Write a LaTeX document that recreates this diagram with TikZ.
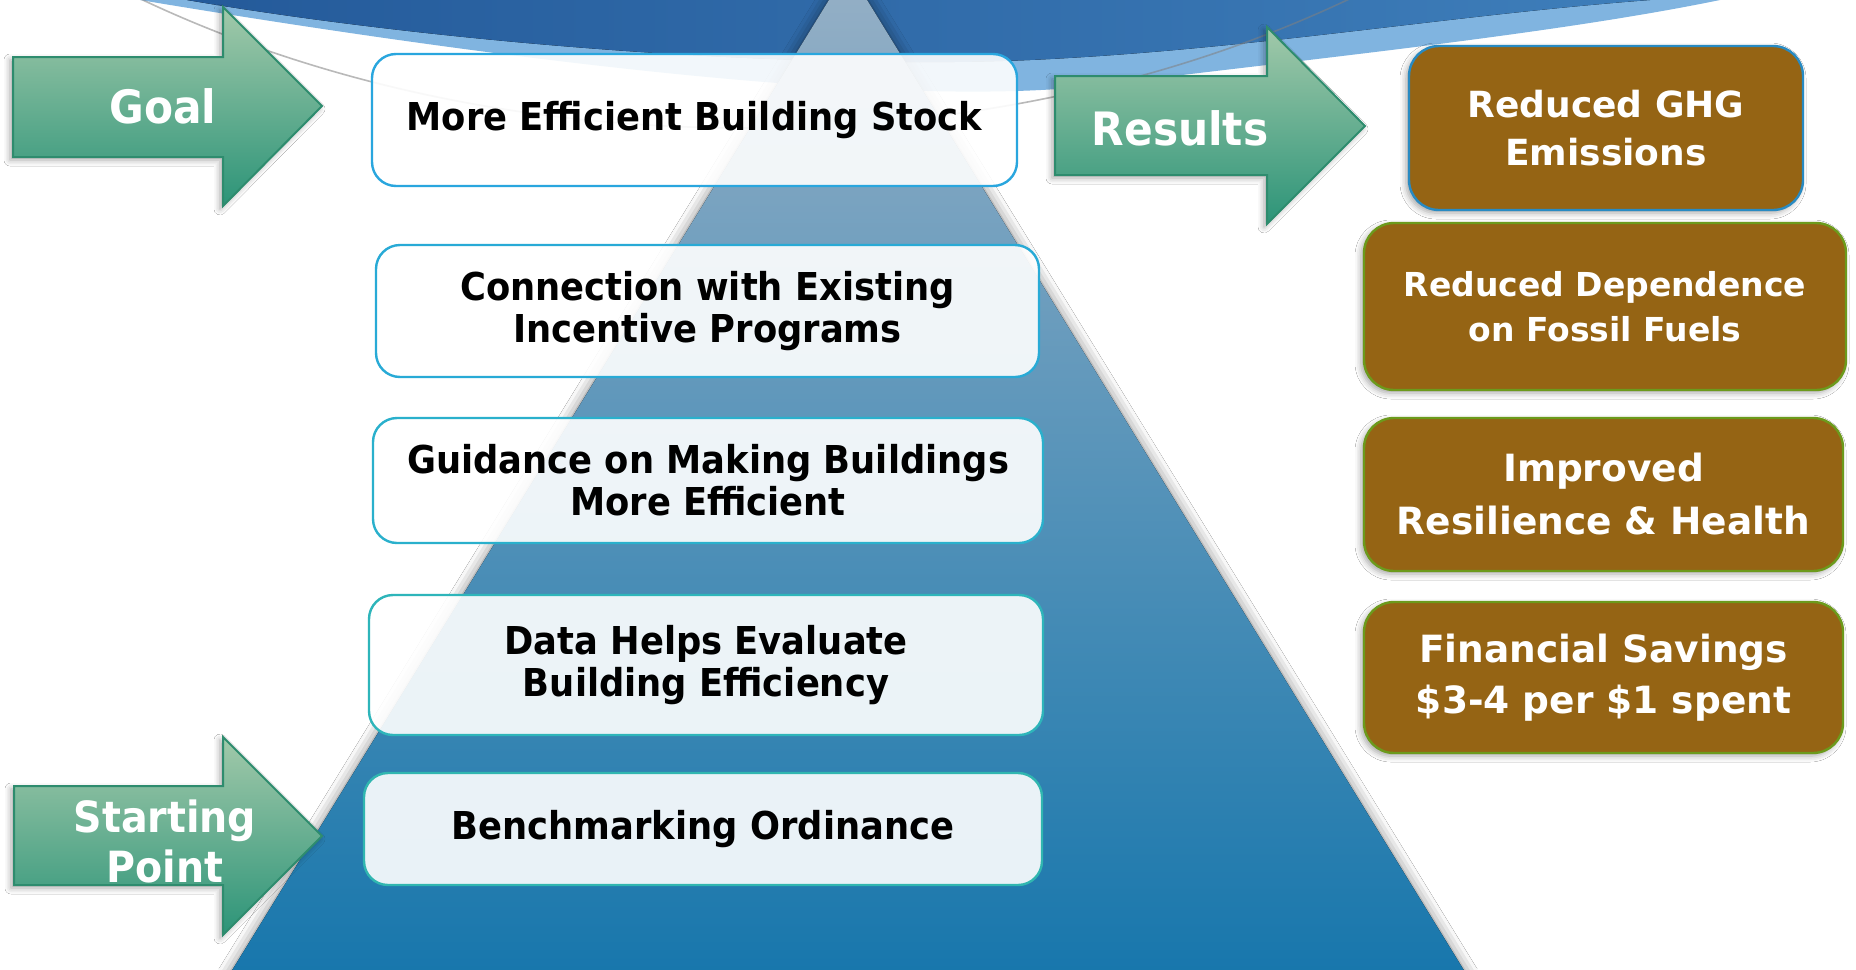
\documentclass[tikz,border=0pt]{standalone}
\usepackage{fontspec}
\setmainfont{DejaVu Sans}
\newfontfamily\narrowfont[FakeStretch=0.92]{DejaVu Sans}
\usetikzlibrary{shadows.blur}

\definecolor{arcdark}{RGB}{36,90,154}
\definecolor{arclight}{RGB}{62,126,186}
\definecolor{arcband}{RGB}{128,180,224}
\definecolor{pyrtop}{RGB}{150,176,198}
\definecolor{pyrmid}{RGB}{98,153,197}
\definecolor{pyrbot}{RGB}{22,118,172}
\definecolor{arrowtop}{RGB}{162,201,170}
\definecolor{arrowbot}{RGB}{44,148,120}
\definecolor{arrowline}{RGB}{46,140,110}
\definecolor{brownfill}{RGB}{149,100,20}
\definecolor{greenline}{RGB}{108,154,28}
\definecolor{blueline}{RGB}{40,138,194}
\definecolor{lineA}{RGB}{41,166,222}
\definecolor{lineB}{RGB}{40,170,214}
\definecolor{lineC}{RGB}{42,176,204}
\definecolor{lineD}{RGB}{46,181,186}
\definecolor{lineE}{RGB}{48,182,176}

\begin{document}
\begin{tikzpicture}[x=0.5pt,y=0.5pt,yscale=-1,xscale=1,
    greenarrow/.style={draw=arrowline, line width=1pt, top color=arrowtop, bottom color=arrowbot,
      blur shadow={shadow xshift=-1.5pt, shadow yshift=-1.5pt, shadow blur radius=3pt, shadow opacity=35}},
    arrowtext/.style={text=white, inner sep=0pt, align=center, font=\narrowfont\bfseries\fontsize{23}{25}\selectfont},
    stepbox/.style={draw, line width=1.2pt, fill=white, fill opacity=0.9, text opacity=1, rounded corners=12pt,
      inner sep=0pt, outer sep=0pt, align=center, text=black, font=\narrowfont\bfseries\fontsize{19.2}{21}\selectfont},
    resultbox/.style={draw=greenline, line width=1.2pt, fill=brownfill, rounded corners=15pt,
      inner sep=0pt, outer sep=0pt, align=center, text=white,
      blur shadow={shadow xshift=-1.5pt, shadow yshift=-1.5pt, shadow blur radius=3pt, shadow opacity=35}}]
    \useasboundingbox (0,0) rectangle (1856,969);
    \fill[white] (0,0) rectangle (1856,969);

    %Shape: Curve [band under the arc]
    \fill[arcband] (140,-10) -- (140,0) .. controls (500,60) and (900,110) .. (1100,85)
      .. controls (1300,60) and (1550,35) .. (1720,0) -- (1720,-10) -- cycle;
    %Shape: Curve [arc]
    \fill[left color=arcdark, right color=arclight] (187,-10) -- (187,0) .. controls (450,45) and (800,70) .. (1030,60)
      .. controls (1250,50) and (1450,15) .. (1650,0) -- (1650,-10) -- cycle;
    %Shape: Ellipse [thin line]
    \draw[black!50, line width=0.8pt, opacity=0.55] (745,-600) ellipse [x radius=1063, y radius=728];

    %Shape: Triangle [pyramid]
    \fill[top color=pyrtop, middle color=pyrmid, bottom color=pyrbot,
      blur shadow={shadow xshift=0pt, shadow yshift=0pt, shadow blur radius=6pt, shadow opacity=50}]
      (848,-31) -- (1473,985) -- (223,985) -- cycle;

    %Shape: Right Arrow [goal]
    \draw[greenarrow] (13,57) -- (223,57) -- (223,7) -- (322,106) -- (223,206) -- (223,157) -- (13,157) -- cycle;
    %Shape: Right Arrow [starting point]
    \draw[greenarrow] (14,786) -- (223,786) -- (223,737) -- (322,836) -- (223,935) -- (223,885) -- (14,885) -- cycle;
    %Shape: Right Arrow [results]
    \draw[greenarrow] (1055,76) -- (1267,76) -- (1267,27) -- (1365,126) -- (1267,224) -- (1267,175) -- (1055,175) -- cycle;

    % Text Node
    \node[arrowtext] (goal) at (163,106) {Goal};
    % Text Node
    \node[arrowtext, font=\narrowfont\bfseries\fontsize{21.5}{25}\selectfont] (start) at (165,841) {Starting\\Point};
    % Text Node
    \node[arrowtext] (results) at (1180,128) {Results};

    % Step boxes
    \node[stepbox, draw=lineA, minimum width=322.5pt, minimum height=66pt] (stock) at (694.5,120) {More Efficient Building Stock};
    \node[stepbox, draw=lineB, minimum width=331.5pt, minimum height=66pt] (incentive) at (707.5,311) {Connection with Existing\\Incentive Programs};
    \node[stepbox, draw=lineC, minimum width=335pt, minimum height=62.5pt] (guidance) at (708,480.5) {Guidance on Making Buildings\\More Efficient};
    \node[stepbox, draw=lineD, minimum width=337pt, minimum height=70pt] (data) at (706,665) {Data Helps Evaluate\\Building Efficiency};
    \node[stepbox, draw=lineE, minimum width=339pt, minimum height=56pt] (ordinance) at (703,829) {Benchmarking Ordinance};

    % Result boxes
    \node[resultbox, draw=blueline, minimum width=197pt, minimum height=82pt, font=\bfseries\fontsize{18}{24}\selectfont] (ghg) at (1606,128) {Reduced GHG\\Emissions};
    \node[resultbox, minimum width=241pt, minimum height=83.5pt, font=\bfseries\fontsize{16.5}{22.5}\selectfont] (fossil) at (1605,306.5) {Reduced Dependence\\on Fossil Fuels};
    \node[resultbox, minimum width=239.5pt, minimum height=76.5pt, font=\bfseries\fontsize{18.75}{26.5}\selectfont] (health) at (1603.5,494.5) {Improved\\Resilience \& Health};
    \node[resultbox, minimum width=239.5pt, minimum height=75.5pt, font=\bfseries\fontsize{18.75}{25.5}\selectfont] (savings) at (1603.5,677.5) {Financial Savings\\\$3-4 per \$1 spent};
\end{tikzpicture}
\end{document}
